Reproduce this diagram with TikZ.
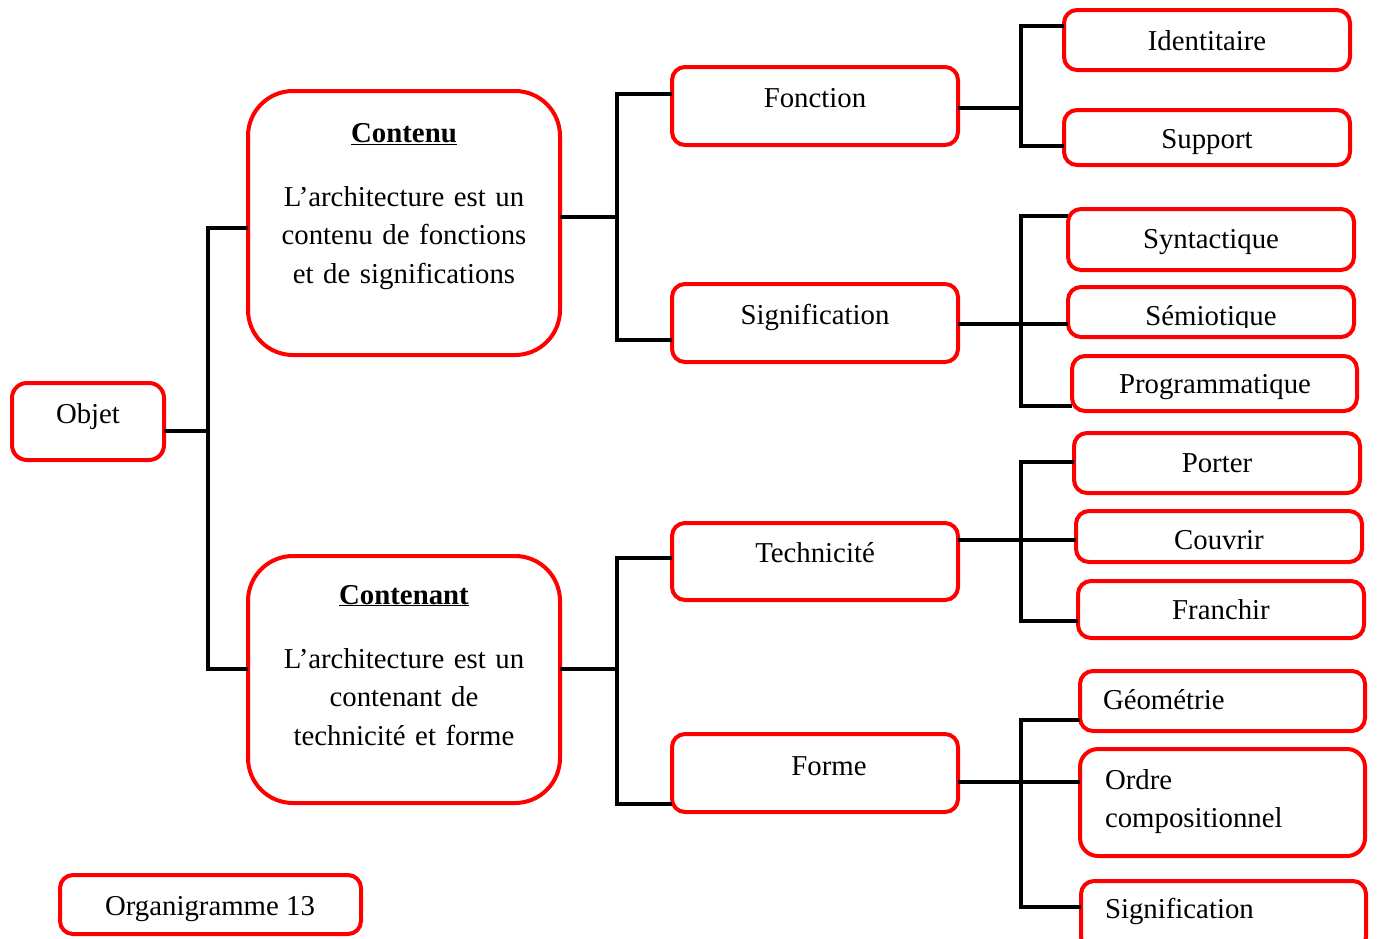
\documentclass[tikz,border=0pt]{standalone}
\usepackage{fontspec}
\setmainfont{Liberation Serif}
\newcommand\mkbox[6]{\node[box,rounded corners=#6,minimum width={(#4-#2-4)*1pt},minimum height={(#5-#3-4)*1pt}] (#1) at ({(#2+#4)/2},{(#3+#5)/2}) {};}
\begin{document}
\begin{tikzpicture}[x=1pt,y=-1pt,
  box/.style={draw={rgb,255:red,255;green,0;blue,0}, line width=4pt, inner sep=0pt, outer sep=0pt},
  conn/.style={draw=black, line width=4pt},
  txt/.style={inner sep=0pt, outer sep=0pt, font=\fontsize{28.8}{38.5}\selectfont, anchor=base}]
\clip (0,0) rectangle (1378,938);
% boxes
\mkbox{objet}{10}{381}{166}{462}{15pt}
\mkbox{contenu}{246}{89}{562}{357}{45pt}
\mkbox{contenant}{246}{554}{562}{805}{45pt}
\mkbox{fonction}{670}{65}{960}{147}{13pt}
\mkbox{signif}{670}{282}{960}{364}{13pt}
\mkbox{techn}{670}{521}{960}{602}{13pt}
\mkbox{forme}{670}{732}{960}{814}{13pt}
\mkbox{ident}{1062}{8}{1352}{72}{13pt}
\mkbox{support}{1062}{108}{1352}{167}{13pt}
\mkbox{synt}{1066}{207}{1356}{272}{13pt}
\mkbox{semio}{1066}{285}{1356}{339}{13pt}
\mkbox{prog}{1070}{354}{1359}{413}{13pt}
\mkbox{porter}{1072}{431}{1362}{495}{13pt}
\mkbox{couvrir}{1074}{509}{1364}{564}{13pt}
\mkbox{franchir}{1076}{579}{1366}{640}{13pt}
\mkbox{geom}{1078}{669}{1367}{733}{13pt}
\mkbox{ordre}{1078}{747}{1367}{858}{18pt}
\mkbox{signifb}{1079}{879}{1368}{952}{13pt}
\mkbox{organ}{58}{873}{363}{936}{13pt}
% texts
\node[txt] (tobjet) at (88,423) {Objet};
\node[txt] (tcontenu) at (404,142) {\textbf{\underline{Contenu}}};
\node[txt, text width=320pt, align=center] (dcontenu) at (404,206) {L’architecture est un\\contenu de fonctions\\et de significations};
\node[txt] (tcontenant) at (404,604) {\textbf{\underline{Contenant}}};
\node[txt, text width=320pt, align=center] (dcontenant) at (404,668) {L’architecture est un\\contenant de\\technicité et forme};
\node[txt] (tfonction) at (815,107) {Fonction};
\node[txt] (tsignif) at (815,324) {Signification};
\node[txt] (ttechn) at (815,562) {Technicité};
\node[txt] (tforme) at (829,775) {Forme};
\node[txt] (tident) at (1207,50) {Identitaire};
\node[txt] (tsupport) at (1207,148) {Support};
\node[txt] (tsynt) at (1211,248) {Syntactique};
\begin{scope}
\clip (1060,280) rectangle (1360,327);
\node[txt] (tsemio) at (1211,325) {Sémiotique};
\end{scope}
\node[txt] (tprog) at (1215,393) {Programmatique};
\node[txt] (tporter) at (1217,472) {Porter};
\node[txt] (tcouvrir) at (1219,549) {Couvrir};
\node[txt] (tfranchir) at (1221,619) {Franchir};
\node[txt, anchor=base west] (tgeom) at (1103,709) {Géométrie};
\node[txt, anchor=base west, text width=260pt, align=left] (tordre) at (1105,789) {Ordre\\compositionnel};
\node[txt, anchor=base west] (tsignifb) at (1105,918) {Signification};
\node[txt] (torgan) at (210,915) {Organigramme 13};
% connectors
\draw[conn] (objet.east |- 0,431) -- (208,431);
\draw[conn] (contenu.west |- 0,228) -| (208,669) -- (contenant.west |- 0,669);
\draw[conn] (contenu.east |- 0,217) -- (617,217);
\draw[conn] (fonction.west |- 0,94) -| (617,340) -- (signif.west |- 0,340);
\draw[conn] (contenant.east |- 0,669) -- (617,669);
\draw[conn] (techn.west |- 0,558) -| (617,804) -- (forme.west |- 0,804);
\draw[conn] (fonction.east |- 0,108) -- (1021,108);
\draw[conn] (ident.west |- 0,26) -| (1021,146) -- (support.west |- 0,146);
\draw[conn] (signif.east |- 0,324) -- (semio.west |- 0,324);
\draw[conn] (synt.west |- 0,216) -| (1021,406) -- (prog.west |- 0,406);
\draw[conn] (techn.east |- 0,540) -- (couvrir.west |- 0,540);
\draw[conn] (porter.west |- 0,462) -| (1021,621) -- (franchir.west |- 0,621);
\draw[conn] (forme.east |- 0,782) -- (ordre.west |- 0,782);
\draw[conn] (geom.west |- 0,720) -| (1021,907) -- (signifb.west |- 0,907);
\end{tikzpicture}
\end{document}
